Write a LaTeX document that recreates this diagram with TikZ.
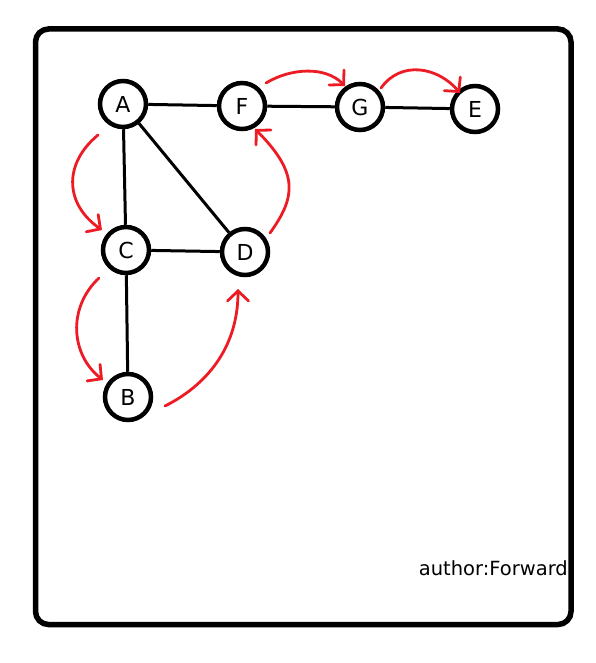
\documentclass[tikz,border=0pt]{standalone}
\usepackage{fontspec}
\setmainfont{DejaVu Sans}
\usetikzlibrary{calc,arrows.meta}
\definecolor{penred}{RGB}{237,28,36}

\begin{document}
\begin{tikzpicture}[x=1pt,y=-1pt,
  vertex/.style={circle, draw, line width=4.5pt, minimum size=46pt, inner sep=0pt, font=\fontsize{22}{22}\selectfont},
  edge/.style={line width=3pt},
  visit/.style={penred, line width=2.8pt, line cap=round, -{Straight Barb[length=10pt,width=21pt,line cap=round]}}]
\useasboundingbox (0,0) rectangle (596,663);
\draw[line width=5.5pt, rounded corners=13pt] (35.5,29) rectangle (571,624.5);
\node[vertex] (A) at (123,104) {A};
\node[vertex] (F) at (242,106) {F};
\node[vertex] (G) at (360,107) {G};
\node[vertex] (E) at (475,109) {E};
\node[vertex] (C) at (126,250) {C};
\node[vertex] (D) at (245,252) {D};
\node[vertex] (B) at (128,397) {B};
\draw[edge] (A) -- (F);
\draw[edge] (F) -- (G);
\draw[edge] (G) -- (E);
\draw[edge] (A) -- (C);
\draw[edge] (A) -- (D);
\draw[edge] (C) -- (D);
\draw[edge] (C) -- (B);
\draw[visit] ($(A)+(-25,31)$) .. controls +(-36,30) and +(-36,-25) .. ($(C)+(-24,-20)$);
\draw[visit] ($(C)+(-27,28)$) .. controls +(-32,30) and +(-32,-25) .. ($(B)+(-25,-17)$);
\draw[visit] ($(B)+(37,9)$) .. controls +(40,-20) and +(0,60) .. ($(D)+(-7,37)$);
\draw[visit] ($(D)+(25,-19)$) .. controls +(25,-35) and +(45,45) .. ($(F)+(13,23)$);
\draw[visit] ($(F)+(24,-23)$) .. controls +(25,-15) and +(-20,-20) .. ($(G)+(-15,-21)$);
\draw[visit] ($(G)+(21,-19)$) .. controls +(20,-28) and +(-22,-26) .. ($(E)+(-15,-16)$);
\node[anchor=base east, inner sep=0pt, font=\fontsize{19.5}{19.5}\selectfont] (author) at (568,575) {author:Forward};
\end{tikzpicture}
\end{document}
